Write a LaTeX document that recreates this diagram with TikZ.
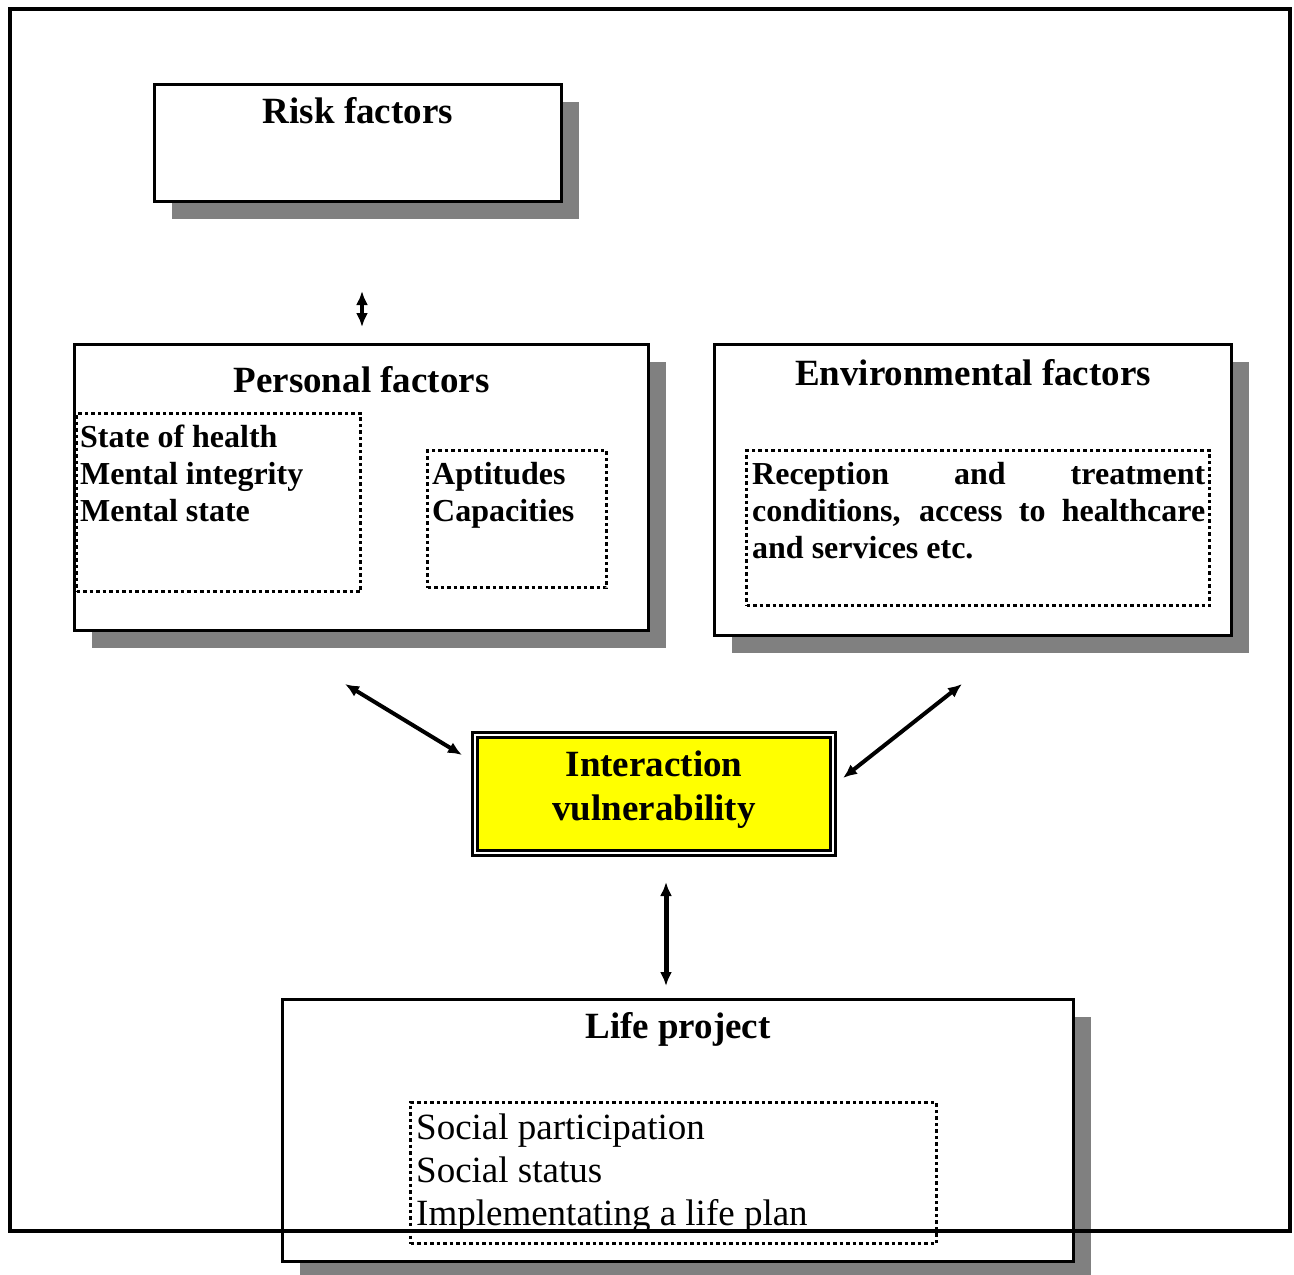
\documentclass[tikz,border=0pt]{standalone}
\usepackage{fontspec}
\setmainfont{Liberation Serif}
\usetikzlibrary{arrows.meta,shadows}
\definecolor{vulnyellow}{RGB}{255,255,0}
\definecolor{shadowgray}{RGB}{128,128,128}
\tikzset{
  frame/.style={draw, line width=3.5pt, fill=white, inner sep=0pt,
    drop shadow={shadow xshift=17pt, shadow yshift=-17pt, fill=shadowgray, opacity=1}},
  dotbox/.style={draw, line width=3.5pt, dash pattern=on 3.5pt off 3pt, inner sep=0pt},
  ttl/.style={font=\fontsize{37}{44}\selectfont\bfseries, inner sep=0pt, anchor=base},
  itembold/.style={font=\fontsize{32}{37}\selectfont\bfseries, inner sep=0pt, align=left, anchor=north west},
  itemplain/.style={font=\fontsize{37}{43}\selectfont, inner sep=0pt, align=left, anchor=north west},
}
\begin{document}
\begin{tikzpicture}[x=1pt, y=-1pt, >={Latex[length=14pt,width=12pt]}]
        \useasboundingbox (0,0) rectangle (1294,1275);
        % boxes
        \node[frame, minimum width=407pt, minimum height=117pt] (risk) at (358,143) {};
        \node[ttl] (riskt) at (358,123) {Risk factors};
        \node[frame, minimum width=574pt, minimum height=286pt] (personal) at (361.5,487.5) {};
        \node[ttl] (personalt) at (361.5,392) {Personal factors};
        \node[frame, minimum width=517pt, minimum height=291pt] (env) at (973,490) {};
        \node[ttl] (envt) at (973,385) {Environmental factors};
        \node[frame, minimum width=791pt, minimum height=262pt] (life) at (678,1130.5) {};
        \node[ttl] (lifet) at (678,1038) {Life project};
        % dotted groups
        \node[dotbox, minimum width=284pt, minimum height=178pt] (health) at (218.5,502.5) {};
        \node[itembold] (healtht) at (80,425) {State of health\\Mental integrity\\Mental state};
        \node[dotbox, minimum width=179pt, minimum height=137pt] (apt) at (517,519) {};
        \node[itembold] (aptt) at (432,462) {Aptitudes\\Capacities};
        \node[dotbox, minimum width=463pt, minimum height=155pt] (cond) at (978,528) {};
        \node[itembold] (condt) at (752,462) {\makebox[453pt][s]{Reception and treatment}\\
          \makebox[453pt][s]{conditions, access to healthcare}\\and services etc.};
        \node[dotbox, minimum width=526pt, minimum height=141pt] (social) at (673.5,1173) {};
        \node[itemplain] (socialt) at (416,1114) {Social participation\\Social status\\Implementating a life plan};
        % centre
        \node[draw, line width=2.5pt, double=white, double distance=2.5pt, fill=vulnyellow,
          minimum width=358pt, minimum height=118pt] (inter) at (654,794) {};
        \node[ttl] (intert) at (654,776) {Interaction};
        \node[ttl] (intert2) at (654,820) {vulnerability};
        % arrows
        \coordinate (r1) at (362,291);
        \coordinate (r2) at (362,327);
        \coordinate (p1) at (345,684);
        \coordinate (p2) at (462,755);
        \coordinate (e1) at (962,684);
        \coordinate (e2) at (843,778);
        \coordinate (l1) at (666,882);
        \coordinate (l2) at (666,986);
        \draw [<->, line width=3.5pt] (r1)--(r2);
        \draw [<->, line width=4pt] (p1)--(p2);
        \draw [<->, line width=4pt] (e1)--(e2);
        \draw [<->, line width=5pt] (l1)--(l2);
        % outer frame
        \draw [line width=3.5pt] (10,9) rectangle (1290,1231);

\end{tikzpicture}
\end{document}
